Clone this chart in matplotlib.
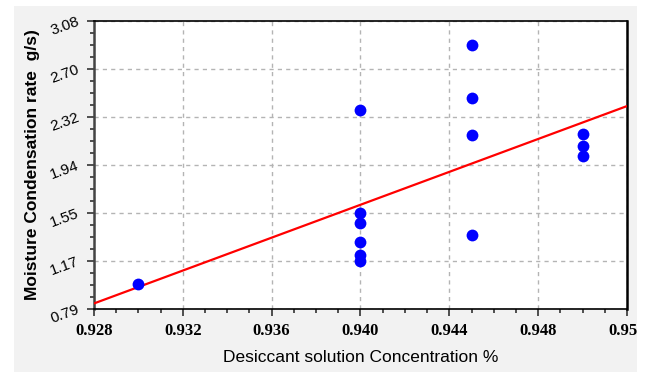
import numpy as np
import matplotlib.pyplot as plt
from matplotlib.patches import Rectangle
from matplotlib.ticker import FixedLocator, AutoMinorLocator

# data
conc = np.array([0.930,
                 0.940, 0.940, 0.940, 0.940, 0.940, 0.940,
                 0.945, 0.945, 0.945, 0.945,
                 0.950, 0.950, 0.950])
rate = np.array([0.99,
                 2.37, 1.55, 1.47, 1.32, 1.22, 1.17,
                 2.89, 2.47, 2.17, 1.38,
                 2.18, 2.09, 2.01])

x_ticks = [0.928, 0.932, 0.936, 0.940, 0.944, 0.948, 0.952]
y_ticks = [0.79, 1.17, 1.55, 1.94, 2.32, 2.70, 3.08]

# linear regression line
b, a = np.polyfit(conc, rate, 1)
x_line = np.linspace(0.928, 0.952, 100)
y_line = a + b * x_line

fig = plt.figure(figsize=(6.49, 3.72), dpi=100, facecolor='white')
fig.patches.append(Rectangle((14/649, 0), 623/649, 366/372, transform=fig.transFigure,
                             facecolor='#f2f2f2', edgecolor='none', zorder=-1))
fig.patches.append(Rectangle((637/649, 0), 12/649, 1, transform=fig.transFigure,
                             facecolor='white', edgecolor='none', zorder=10))

ax = fig.add_axes([94/649, 63/372, 533/649, 288/372])
ax.set_facecolor('white')

ax.plot(x_line, y_line, color='red', lw=1.6, zorder=3)
ax.plot(conc, rate, 'o', color='blue', markersize=8.5, markeredgewidth=0, zorder=4)

ax.set_xlim(0.928, 0.952)
ax.set_ylim(0.79, 3.08)
ax.xaxis.set_major_locator(FixedLocator(x_ticks))
ax.yaxis.set_major_locator(FixedLocator(np.linspace(0.79, 3.08, 7)))
ax.set_xticklabels([f'{v:.3f}' for v in x_ticks], family='Liberation Serif',
                   fontweight='bold', fontsize=12)
ax.set_yticklabels([f'{v:.2f}' for v in y_ticks], family='Liberation Sans',
                   fontsize=11, rotation=20, ha='right', va='center',
                   rotation_mode='anchor')
ax.xaxis.set_minor_locator(AutoMinorLocator(4))
ax.yaxis.set_minor_locator(AutoMinorLocator(4))
ax.tick_params(which='major', direction='out', length=5, width=1.2, color='#333333')
ax.tick_params(which='minor', direction='out', length=3, width=1.2, color='#333333')
ax.tick_params(axis='x', which='major', pad=5)
ax.tick_params(axis='y', which='major', pad=6)

ax.grid(True, which='major', color='#b4b4b4', linestyle=(0, (3, 3)), linewidth=1)
for s in ['top', 'bottom']:
    ax.spines[s].set_linewidth(1.2)
ax.spines['left'].set_linewidth(1.8)
ax.spines['left'].set_color('#444444')
ax.spines['right'].set_linewidth(1.8)

ax.set_xlabel('Desiccant solution Concentration %', family='Liberation Sans',
              fontsize=12.5, labelpad=8)
ax.set_ylabel('Moisture Condensation rate  g/s)', family='Liberation Sans',
              fontsize=12.5, fontweight='bold', labelpad=6)

fig.savefig('out.png', dpi=100)
